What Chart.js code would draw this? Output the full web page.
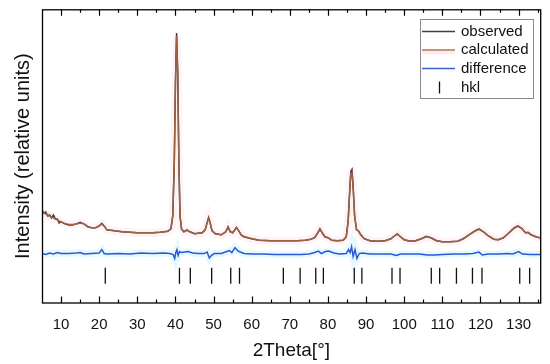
<!DOCTYPE html>
<html>
<head>
<meta charset="utf-8">
<script src="https://cdn.jsdelivr.net/npm/chart.js@4.4.1/dist/chart.umd.min.js"></script>
<style>
  html, body { margin: 0; padding: 0; background: #fff; }
  #wrap { width: 550px; height: 364px; }
</style>
</head>
<body>
<div id="wrap"><canvas id="c" width="550" height="364"></canvas></div>
<script>
// ---- data (2Theta in degrees, intensity in relative units) ----
const profileTwoTheta = [5,5.5,6,6.5,7,7.5,8,8.5,9,9.5,10,11,12,13,14,15,16,17,18,19,20,20.7,21.5,22,23,24,26,28,30,32,34,36,37,38,38.8,39.3,39.7,40.0,40.3,40.6,40.9,41.2,41.6,42.2,43.0,43.8,45,47,47.8,48.3,48.7,49.1,49.6,50.5,52,53.2,53.8,54.4,55,55.4,56,56.6,57.3,58,59,60,62,65,68,70,72,74,75.5,76.5,77.3,77.9,78.5,79.2,80,81,82.5,84,84.8,85.3,85.7,86.0,86.3,86.6,87.0,87.5,88.0,88.6,89.5,91,93,95,96.5,97.5,98.2,99,100,101.5,103,104.5,105.8,107,108.5,110,112,114,115.5,117,118.5,119.6,120.8,122,123.5,124.7,126,127.5,128.8,129.8,130.8,131.8,132.5,133.3,134.5,135.5,136];
const observed = [94,91,92,88,89,86,89,85,85,81,82,80,79,79,80,81.5,80,77,76,76,78,80.5,77,74,73.5,73,72,71.5,71,71,71,71.5,72,72.5,75,88,143,223,273,233,143,88,75,72,74,72,70,71,74,81,86.5,81,73,70,69,72,77,72,71,73,76.5,73,68.5,67,66,65,63.5,63,63,63,63,63.5,64.5,66,71,75,71,67,66,63.5,63,63.5,67,83,113,133,135,118,88,74,73,69,65,63,62.5,63,65,68,70,67,64,62.5,63,65,67.5,66,63,62,62,62.5,65,69,73,75,72,68,64.5,64,66,71,76,78,75.5,71,71.5,69,67,66,66];
const calculated = [92,91,90,89,88,87,86,85,84,83,82,80.5,79.5,79.5,80,81,80,77.5,76,76,78,80,77,74,73.5,73,72,71.5,71,71,71,71.5,72,72.5,75,88,142,221,270,231,142,88,75,72,73.5,72,70,71,74,81,86,81,73,70,69,72,76.5,72,71,73,76,73,68.5,67,66,65,63.5,63,63,63,63,63.5,64.5,66,70.5,74.5,71,67,66,63.5,63,63.5,67,83,112,131,132,117,88,74,73,69,65,63,62.5,63,65,68,69.5,67,64,62.5,63,65,67,66,63,62,62,62.5,65,69,72.5,74.5,72,68,64.5,64,66,71,75.5,77.5,75.5,71,71,69,67,66,66];
const diffTwoTheta = [5,6,7,8,9,10,12,14,15,16,18,20,20.7,21.3,22,25,28,31,34,37,38.5,39.4,39.8,40.1,40.4,40.7,41.1,41.6,42.5,43.3,44.5,46,47.5,48.3,48.9,49.4,50.2,52,53.5,54.2,54.8,55.6,56.3,57,58,60,63,66,70,73,75,76.5,77.5,78.3,79.3,80.2,81.5,83,84.8,85.4,85.8,86.2,86.6,87.1,87.6,88.2,89,91,94,96.5,98,99,101,104,106,108,110,113,116,118,119.6,120.5,122,125,127,128.5,130,131,133,136];
const difference = [50,49,50.5,49.5,51,50,50,50.5,51,49.5,50,50.5,54,50,49.5,50,49.5,50.5,50,50.5,50,49,45,51,54,48,52,51,51.5,52,50.5,50,50,51.5,45.5,48,50,50,52,53,51,56,53,51.5,50,49.5,49.5,49,49,49,49.5,51,52.5,50,52,52.5,50.5,49.5,50,54,51,57,47,54,45,50,50.5,49.5,49.5,49.5,48,49.5,49.5,49.5,48.5,48.5,49,49.5,49.5,50,51.5,48.5,49.5,49.5,50,49.5,52,49.5,49,49];
const hklPositions = [21.6,41.05,43.9,49.5,54.5,56.8,68.3,72.7,76.8,78.8,86.9,88.9,96.8,98.9,107.1,109.3,113.7,117.9,120.4,130.3,132.9];
const hklLevel = 27.5;
const xTickValues = [10,20,30,40,50,60,70,80,90,100,110,120,130];
const xMinorTicks = [5,15,25,35,45,55,65,75,85,95,105,115,125,135];
const xRange = [5, 135.8];
const yRange = [0, 297];

const pts = (xs, ys) => xs.map((x, i) => ({x: x, y: ys[i]}));

const COL_OBS = '#3f3f3f', COL_CALC = '#9a6342', COL_DIFF = '#2f55d6', COL_HKL = '#111111';
const FONT = '"Liberation Sans", Arial, Helvetica, sans-serif';

const legendEntries = [
  {label: 'observed', color: COL_OBS, type: 'line'},
  {label: 'calculated', color: '#b07a55', type: 'line'},
  {label: 'difference', color: '#3a60d0', type: 'line'},
  {label: 'hkl', color: COL_HKL, type: 'bar'}
];

const framePlugin = {
  id: 'frame',
  afterDatasetsDraw(chart) {
    const {ctx, chartArea: a, scales: {x}} = chart;
    ctx.save();
    ctx.strokeStyle = '#000';
    ctx.lineWidth = 1.2;
    ctx.beginPath();
    const tick = (v, len) => {
      const px = Math.round(x.getPixelForValue(v)) + 0.5;
      ctx.moveTo(px, a.bottom); ctx.lineTo(px, a.bottom - len);
      ctx.moveTo(px, a.top); ctx.lineTo(px, a.top + len);
    };
    xTickValues.forEach(v => tick(v, 6.5));
    xMinorTicks.forEach(v => { if (v > xRange[0] && v < xRange[1]) tick(v, 3.5); });
    ctx.stroke();
    ctx.lineWidth = 1.3;
    ctx.strokeRect(a.left + 0.5, a.top + 0.5, a.right - a.left - 0.5, a.bottom - a.top - 0.5);
    ctx.restore();
  }
};

const legendPlugin = {
  id: 'boxLegend',
  afterDraw(chart) {
    const {ctx} = chart;
    const bx = 420.5, by = 19.5, bw = 113, bh = 79;
    ctx.save();
    ctx.fillStyle = '#fff';
    ctx.fillRect(bx, by, bw, bh);
    ctx.strokeStyle = '#8a8a8a';
    ctx.lineWidth = 1;
    ctx.strokeRect(bx, by, bw, bh);
    ctx.font = '15px ' + FONT;
    ctx.textBaseline = 'middle';
    ctx.textAlign = 'left';
    const rowY = [31.5, 50, 68.5, 87.5];
    legendEntries.forEach((e, i) => {
      const y = rowY[i];
      ctx.strokeStyle = e.color;
      if (e.type === 'line') {
        if (e.label === 'calculated') {
          ctx.strokeStyle = 'rgba(255,200,225,0.4)';
          ctx.lineWidth = 5;
          ctx.beginPath(); ctx.moveTo(422, y + 1.5); ctx.lineTo(455, y + 1.5); ctx.stroke();
          ctx.strokeStyle = e.color;
        }
        ctx.lineWidth = 1.6;
        ctx.beginPath(); ctx.moveTo(422, y); ctx.lineTo(455, y); ctx.stroke();
      } else {
        ctx.lineWidth = 1.3;
        ctx.beginPath(); ctx.moveTo(439.5, y - 6); ctx.lineTo(439.5, y + 6); ctx.stroke();
      }
      ctx.fillStyle = '#111';
      ctx.fillText(e.label, 461, y);
    });
    ctx.restore();
  }
};

new Chart(document.getElementById('c'), {
  type: 'line',
  data: {
    datasets: [
      {label: 'hkl', data: hklPositions.map(v => ({x: v, y: hklLevel})), showLine: false,
       pointStyle: 'line', rotation: 90, pointRadius: 8, pointBorderWidth: 1.3,
       borderColor: COL_HKL, backgroundColor: COL_HKL, order: 0},
      {label: 'calculated', data: pts(profileTwoTheta, calculated), borderColor: COL_CALC,
       borderWidth: 1.5, pointRadius: 0, order: 1},
      {label: 'observed', data: pts(profileTwoTheta, observed), borderColor: COL_OBS,
       borderWidth: 1.5, pointRadius: 0, order: 2},
      {label: 'calc-halo', data: pts(profileTwoTheta, calculated), borderColor: 'rgba(255,195,222,0.2)',
       borderWidth: 8, pointRadius: 0, order: 3},
      {label: 'difference', data: pts(diffTwoTheta, difference), borderColor: COL_DIFF,
       borderWidth: 1.5, pointRadius: 0, order: 4},
      {label: 'diff-halo', data: pts(diffTwoTheta, difference), borderColor: 'rgba(170,238,255,0.3)',
       borderWidth: 7, pointRadius: 0, order: 5}
    ]
  },
  options: {
    responsive: false,
    animation: false,
    devicePixelRatio: 1,
    layout: {padding: {top: 6, right: 9, left: 0, bottom: 0}},
    plugins: {legend: {display: false}, tooltip: {enabled: false}},
    elements: {line: {tension: 0}},
    scales: {
      x: {
        type: 'linear', min: xRange[0], max: xRange[1],
        grid: {display: false}, border: {display: false},
        afterBuildTicks: s => { s.ticks = xTickValues.map(v => ({value: v})); },
        afterFit: s => { s.height = 61; },
        ticks: {color: '#111', font: {family: FONT, size: 15}, padding: 5, maxRotation: 0, autoSkip: false},
        title: {display: true, text: '2Theta[°]', color: '#111', font: {family: FONT, size: 19}, padding: {top: 0, bottom: 2}}
      },
      y: {
        type: 'linear', min: yRange[0], max: yRange[1],
        grid: {display: false}, border: {display: false},
        ticks: {display: false},
        afterFit: s => { s.width = 42; },
        title: {display: true, text: 'Intensity (relative units)', color: '#111', font: {family: FONT, size: 20}, padding: {top: 11, bottom: 0}}
      }
    }
  },
  plugins: [framePlugin, legendPlugin]
});
</script>
</body>
</html>
